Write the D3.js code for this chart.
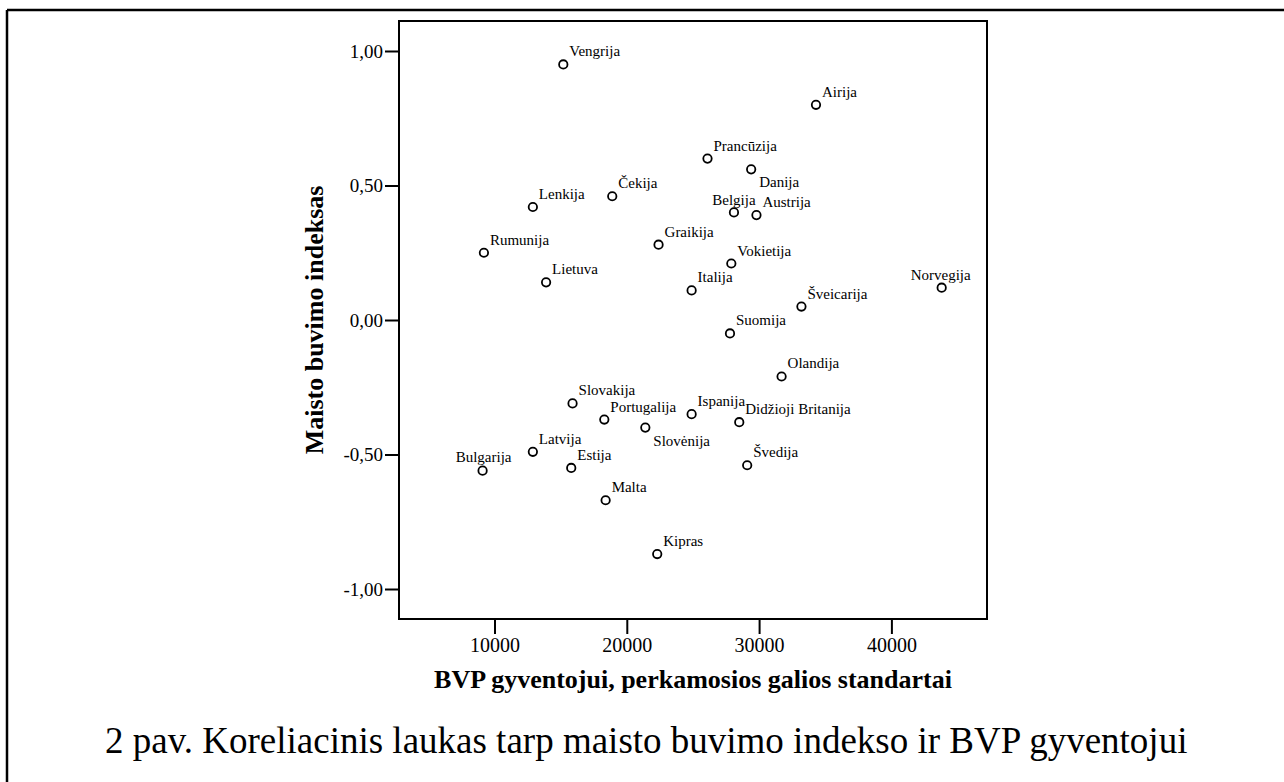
<!DOCTYPE html>
<html>
<head>
<meta charset="utf-8">
<script src="https://cdn.jsdelivr.net/npm/d3@7"></script>
<style>
  body { margin: 0; background: #fff; }
  svg { display: block; font-family: "Liberation Serif", "Times New Roman", serif; }
  .axis path, .axis line { stroke: #000; stroke-width: 2; }
  .axis text { fill: #000; font-family: "Liberation Serif", "Times New Roman", serif; }
</style>
</head>
<body>
<svg id="chart" width="1284" height="782"></svg>
<script>
// countries, GDP per capita (PPS) and food living index
const countries = ["Vengrija", "Airija", "Prancūzija", "Danija", "Čekija", "Lenkija",
  "Belgija", "Austrija", "Graikija", "Rumunija", "Vokietija", "Lietuva", "Italija",
  "Norvegija", "Šveicarija", "Suomija", "Olandija", "Slovakija", "Ispanija",
  "Portugalija", "Didžioji Britanija", "Slovėnija", "Latvija", "Bulgarija", "Estija",
  "Švedija", "Malta", "Kipras"];
const gdp = [15200, 34300, 26100, 29400, 18900, 12900, 28100, 29800, 22400, 9200,
  27900, 13900, 24900, 43800, 33200, 27800, 31700, 15900, 24900, 18300, 28500,
  21400, 12900, 9100, 15800, 29100, 18400, 22300];
const foodIndex = [0.95, 0.80, 0.60, 0.56, 0.46, 0.42, 0.40, 0.39, 0.28, 0.25,
  0.21, 0.14, 0.11, 0.12, 0.05, -0.05, -0.21, -0.31, -0.35, -0.37, -0.38,
  -0.40, -0.49, -0.56, -0.55, -0.54, -0.67, -0.87];

const xTicks = [10000, 20000, 30000, 40000];
const yTicks = [-1, -0.5, 0, 0.5, 1];

const xTitle = "BVP gyventojui, perkamosios galios standartai";
const yTitle = "Maisto buvimo indeksas";
const caption = "2 pav. Koreliacinis laukas tarp maisto buvimo indekso ir BVP gyventojui";

// label placement where the default (right and above the point) isn't used
const labelPos = {
  "Danija": { dx: 8, dy: 18, anchor: "start" },
  "Slovėnija": { dx: 8, dy: 18, anchor: "start" },
  "Belgija": { dx: 0, dy: -7, anchor: "middle" },
  "Norvegija": { dx: -1, dy: -8, anchor: "middle" },
  "Bulgarija": { dx: 1, dy: -9, anchor: "middle" }
};

const points = countries.map((c, i) => ({ name: c, gdp: gdp[i], v: foodIndex[i] }));

const lt = d3.formatLocale({ decimal: ",", thousands: "", grouping: [3], currency: ["", ""], minus: "-" });

const serif = '"Liberation Serif", "Times New Roman", serif';
const svg = d3.select("#chart");

// page frame (table cell border)
svg.append("line").attr("x1", 7).attr("x2", 1284).attr("y1", 10).attr("y2", 10)
  .attr("stroke", "#000").attr("stroke-width", 2.5);
svg.append("line").attr("x1", 7).attr("x2", 7).attr("y1", 10).attr("y2", 782)
  .attr("stroke", "#000").attr("stroke-width", 2.5);

const plot = { left: 399, right: 987, top: 21, bottom: 619 };

const x = d3.scaleLinear().domain([2782, 47226]).range([plot.left, plot.right]);
const y = d3.scaleLinear().domain([-1.1115, 1.1115]).range([plot.bottom, plot.top]);

// box
svg.append("rect")
  .attr("x", plot.left).attr("y", plot.top)
  .attr("width", plot.right - plot.left).attr("height", plot.bottom - plot.top)
  .attr("fill", "none").attr("stroke", "#000").attr("stroke-width", 2);

const xAxis = svg.append("g").attr("class", "axis")
  .attr("transform", "translate(0," + plot.bottom + ")")
  .call(d3.axisBottom(x).tickValues(xTicks).tickFormat(lt.format("d")).tickSize(15).tickPadding(4));
xAxis.attr("font-family", serif);
xAxis.select(".domain").remove();
xAxis.selectAll("text").style("font-family", serif).style("font-size", "20px");

const yAxis = svg.append("g").attr("class", "axis")
  .attr("transform", "translate(" + plot.left + ",0)")
  .call(d3.axisLeft(y).tickValues(yTicks).tickFormat(lt.format(".2f")).tickSize(14).tickPadding(2));
yAxis.attr("font-family", serif);
yAxis.select(".domain").remove();
yAxis.selectAll("text").style("font-family", serif).style("font-size", "19px");

// axis titles
svg.append("text")
  .attr("x", (plot.left + plot.right) / 2).attr("y", 688)
  .attr("text-anchor", "middle")
  .style("font-size", "26px").style("font-weight", "bold")
  .text(xTitle);

svg.append("text")
  .attr("transform", "translate(323," + (plot.top + plot.bottom) / 2 + ") rotate(-90)")
  .attr("text-anchor", "middle")
  .style("font-size", "26px").style("font-weight", "bold")
  .text(yTitle);

// points
svg.append("g").selectAll("circle")
  .data(points)
  .join("circle")
  .attr("cx", d => x(d.gdp))
  .attr("cy", d => y(d.v))
  .attr("r", 4.2)
  .attr("fill", "none")
  .attr("stroke", "#000")
  .attr("stroke-width", 1.8);

// point labels
svg.append("g").selectAll("text")
  .data(points)
  .join("text")
  .attr("x", d => x(d.gdp) + (labelPos[d.name] ? labelPos[d.name].dx : 6))
  .attr("y", d => y(d.v) + (labelPos[d.name] ? labelPos[d.name].dy : -8))
  .attr("text-anchor", d => labelPos[d.name] ? labelPos[d.name].anchor : "start")
  .style("font-size", "15px")
  .text(d => d.name);

// caption
svg.append("text")
  .attr("x", 105).attr("y", 753)
  .style("font-size", "37px")
  .text(caption);
</script>
</body>
</html>
